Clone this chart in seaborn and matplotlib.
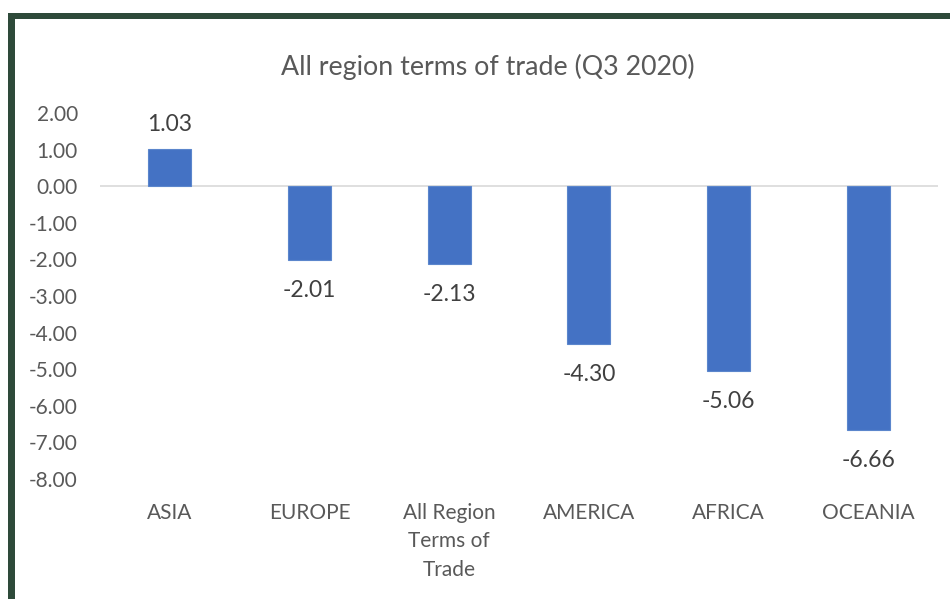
import matplotlib
matplotlib.use("Agg")
import matplotlib.pyplot as plt
import seaborn as sns
import pandas as pd
from matplotlib.patches import Rectangle

categories = ["ASIA", "EUROPE", "All Region\nTerms of\nTrade", "AMERICA", "AFRICA", "OCEANIA"]
values = [1.03, -2.01, -2.13, -4.30, -5.06, -6.66]
yticks = [2, 1, 0, -1, -2, -3, -4, -5, -6, -7, -8]

sns.set_theme(style="white")
plt.rcParams['font.family'] = ['Lato', 'DejaVu Sans']

df = pd.DataFrame({"region": categories, "value": values})

fig = plt.figure(figsize=(9.5, 5.99), dpi=100)
ax = fig.add_axes([100/950, (599-479)/599, (938-100)/950, (479-113)/599])
sns.barplot(data=df, x="region", y="value", color="#4472C4", width=0.31,
            saturation=1, ax=ax, edgecolor="#5b86cc", linewidth=0.8)

ax.set_ylim(-8, 2)
ax.set_xlim(-0.5, 5.5)
ax.set_yticks(yticks)
ax.set_yticklabels([f"{v:.2f}" for v in yticks], color="#595959", fontsize=15)
ax.tick_params(axis='x', colors="#595959", labelsize=15, length=0, pad=17)
ax.tick_params(axis='y', length=0, pad=16)
for lbl in ax.get_xticklabels():
    lbl.set_linespacing(1.55)
ax.set_xlabel("")
ax.set_ylabel("")
for s in ax.spines.values():
    s.set_visible(False)
ax.axhline(0, color="#d9d9d9", lw=1.2, zorder=0)

for i, v in enumerate(values):
    if v >= 0:
        ax.annotate(f"{v:.2f}", (i, v), xytext=(0, 17), textcoords="offset points",
                    ha="center", va="center", fontsize=16.5, color="#404040")
    else:
        ax.annotate(f"{v:.2f}", (i, v), xytext=(0, -22), textcoords="offset points",
                    ha="center", va="center", fontsize=16.5, color="#404040")

fig.text(488/950, 1 - 67/599, "All region terms of trade (Q3 2020)", ha="center", va="center",
         fontsize=19.3, color="#595959")

# dark green frame (top and left)
fig.patches.append(Rectangle((8/950, 0), 7/950, (599-13)/599, transform=fig.transFigure,
                             facecolor="#2e4a3a", edgecolor="none", zorder=10))
fig.patches.append(Rectangle((8/950, (599-19)/599), 942/950, 6/599, transform=fig.transFigure,
                             facecolor="#2e4a3a", edgecolor="none", zorder=10))

fig.savefig("out.png", dpi=100, facecolor="white")
